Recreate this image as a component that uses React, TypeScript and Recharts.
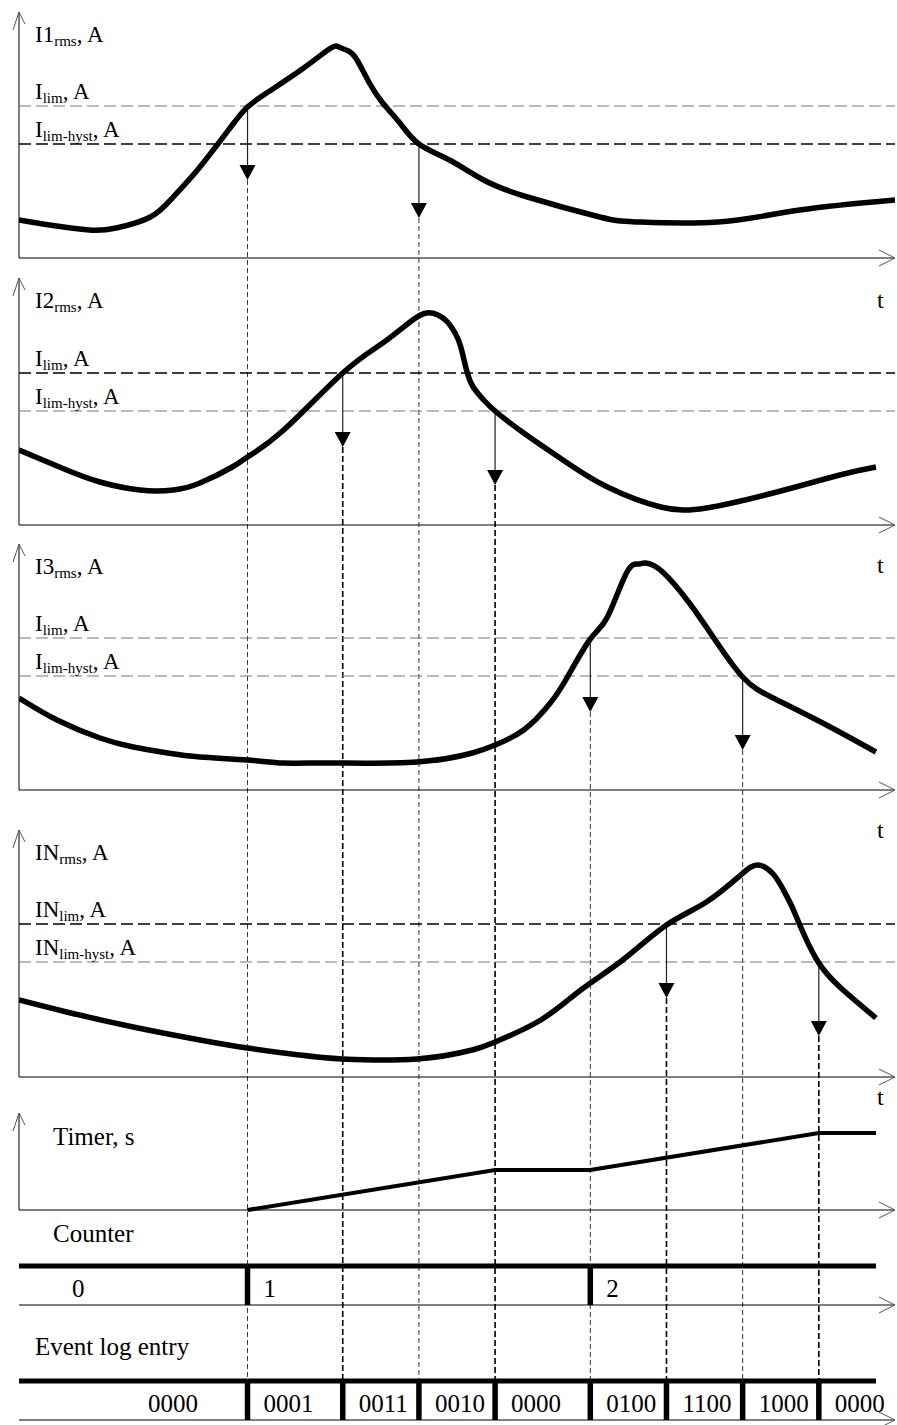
import React from 'react';
import { ComposedChart, Line, XAxis, YAxis, ReferenceLine } from 'recharts';

const FONT = '"Liberation Serif", "Times New Roman", serif';
const W = 897;
const H = 1425;

// time in grid units (~19 px each), curves stop at T_END, axes run to T_AXIS
const T_END = 45;
const T_AXIS = 46;

const I_LIM = 152;
const I_HYST = 114;
const IN_LIM = 153;
const IN_HYST = 115;

// [t, value]
const I1 = [
  [0, 38], [1.6, 33], [3.7, 28], [5.1, 30], [6.9, 41], [8.1, 61], [9.5, 91],
  [11.2, 133], [12, 151], [13, 165], [14.8, 188], [16.3, 209], [16.8, 211], [17.3, 207],
  [17.75, 198], [18.4, 175], [19.1, 155], [20, 135], [21, 114], [22.6, 98], [24.4, 78],
  [26.7, 61], [30.5, 41], [32.5, 36], [36.7, 36], [41, 48], [46, 58],
];
const I2 = [
  [0, 75], [2.5, 55], [4.25, 43], [6.35, 35], [8.1, 35], [9.5, 42], [11.2, 58], [12, 68],
  [13.9, 95], [17, 152], [19.1, 182], [20.6, 204], [21.4, 212], [22, 210], [22.5, 203],
  [22.9, 192], [23.2, 178], [23.5, 155], [23.85, 138], [24.4, 125], [25, 114], [26.5, 92],
  [28.8, 62], [30.9, 38], [33.7, 18], [36.1, 17], [39.6, 32], [43.1, 50], [45, 58],
];
const I3 = [
  [0, 92], [2, 70], [4.25, 52], [6, 43], [7.8, 37], [9.5, 33], [12, 30],
  [13.9, 27], [16.5, 27], [20.9, 28], [23.8, 37], [25, 45], [26.5, 60], [27.9, 87],
  [28.8, 113], [30, 151], [30.9, 173], [31.9, 217], [32.5, 226], [32.9, 227], [33.8, 218],
  [35.2, 187], [36.45, 153], [38, 113], [39.6, 92], [42.2, 67], [45, 38],
];
const IN = [
  [0, 77], [2.5, 65], [6, 50], [9.5, 37], [12, 29], [14.75, 22], [17, 18], [20.9, 18],
  [23.8, 27], [25, 35], [27.4, 57], [29.5, 87], [31.7, 117], [34, 152], [36.1, 175],
  [37.9, 202], [38.8, 212], [39.6, 203], [40.2, 185], [40.6, 170], [41, 152], [41.9, 117],
  [43.1, 90], [45, 59],
];
const TIMER = [[12, 0], [25, 40], [30, 40], [42, 77], [45, 77]];

// threshold crossings per panel: [rise above lim, fall below hyst]
const TRIPS = [[12, 21], [17, 25], [30, 38], [34, 42]];

const COUNTER_T = [0, 12, 30];
const COUNTER_VAL = ['0', '1', '2'];
const LOG_T = [0, 12, 17, 21, 25, 30, 34, 38, 42];
const LOG_VAL = ['0000', '0001', '0011', '0010', '0000', '0100', '1100', '1000', '0000'];

const PANELS = [
  { id: 'i1', base: 258, top: 246, name: 'I1', lname: 'I', lim: I_LIM, hyst: I_HYST, data: I1, limDark: false, hystDark: true, heavy: false, tDy: 50 },
  { id: 'i2', base: 525, top: 247, name: 'I2', lname: 'I', lim: I_LIM, hyst: I_HYST, data: I2, limDark: true, hystDark: false, heavy: true, tDy: 48 },
  { id: 'i3', base: 790, top: 246, name: 'I3', lname: 'I', lim: I_LIM, hyst: I_HYST, data: I3, limDark: false, hystDark: false, heavy: false, tDy: 48 },
  { id: 'in', base: 1077, top: 247, name: 'IN', lname: 'IN', lim: IN_LIM, hyst: IN_HYST, data: IN, limDark: true, hystDark: false, heavy: true, tDy: 28 },
];
const TIMER_BASE = 1210;
const TIMER_TOP = 97;
const CNT_BASE = 1305;
const LOG_BASE = 1420;
const BUS_V = 39;
const ARROW_LEN = 74;

const toRows = (arr: number[][]) => arr.map(([t, v]) => ({ t, v }));

function SubText({ x, y, main, sub, tail = ', A', size = 23 }: any) {
  return (
    <text x={x} y={y} fontFamily={FONT} fontSize={size} fill="#000">
      <tspan>{main}</tspan>
      <tspan fontSize={15} dy={4}>{sub}</tspan>
      <tspan dy={-4}>{tail}</tspan>
    </text>
  );
}

const axisXShape = (p: any) => (
  <g>
    <line x1={p.x1} y1={p.y1} x2={p.x2} y2={p.y2} stroke="#000" strokeWidth={1} />
    <polyline
      points={`${p.x2 - 16},${p.y2 - 8} ${p.x2},${p.y2} ${p.x2 - 16},${p.y2 + 8}`}
      fill="none"
      stroke="#555"
      strokeWidth={1}
    />
  </g>
);

const axisYShape = (p: any) => (
  <g>
    <line x1={p.x1} y1={p.y1} x2={p.x2} y2={p.y2} stroke="#000" strokeWidth={1} />
    <polyline
      points={`${p.x2 - 6},${p.y2 + 18} ${p.x2},${p.y2} ${p.x2 + 6},${p.y2 + 12}`}
      fill="none"
      stroke="#555"
      strokeWidth={1}
    />
  </g>
);

const tripShape = (p: any) => (
  <g>
    <line x1={p.x1} y1={p.y1} x2={p.x2} y2={p.y2 - 12} stroke="#222" strokeWidth={1.2} />
    <polygon points={`${p.x2 - 8},${p.y2 - 15} ${p.x2 + 8},${p.y2 - 15} ${p.x2},${p.y2}`} fill="#000" />
  </g>
);

const plainText = (x: number, y: number, s: string, size = 25) => (
  <text x={x} y={y} fontFamily={FONT} fontSize={size} fill="#000">{s}</text>
);

function bus(id: string, times: number[], values: string[], heading: string, headDx: number, headDy: number, firstDx: number) {
  const out: any[] = [];
  out.push(
    <ReferenceLine
      key={`${id}-axis`}
      yAxisId={id}
      segment={[{ x: 0, y: 0 }, { x: T_AXIS, y: 0 }]}
      shape={axisXShape}
      label={(lp: any) => plainText(lp.viewBox.x + headDx, lp.viewBox.y + headDy, heading)}
    />
  );
  times.forEach((t, i) => {
    const end = i < times.length - 1 ? times[i + 1] : T_END;
    out.push(
      <ReferenceLine
        key={`${id}-seg-${i}`}
        yAxisId={id}
        segment={[{ x: t, y: BUS_V }, { x: end, y: BUS_V }]}
        stroke="#000"
        strokeWidth={5}
        label={(lp: any) => plainText(lp.viewBox.x + (i === 0 ? firstDx : 16), lp.viewBox.y + 31, values[i])}
      />
    );
    if (i > 0) {
      out.push(
        <ReferenceLine
          key={`${id}-bar-${i}`}
          yAxisId={id}
          segment={[{ x: t, y: BUS_V }, { x: t, y: 0 }]}
          stroke="#000"
          strokeWidth={5.5}
        />
      );
    }
  });
  return out;
}

export default function App() {
  const yAxes = [
    ...PANELS.map((p) => ({ id: p.id, base: p.base })),
    { id: 'timer', base: TIMER_BASE },
    { id: 'cnt', base: CNT_BASE },
    { id: 'log', base: LOG_BASE },
  ];

  const panelParts = PANELS.map((p, idx) => {
    const parts: any[] = [];
    parts.push(
      <ReferenceLine
        key={`${p.id}-y`}
        yAxisId={p.id}
        segment={[{ x: 0, y: 0 }, { x: 0, y: p.top }]}
        shape={axisYShape}
        label={(lp: any) => <SubText x={lp.viewBox.x + 16} y={lp.viewBox.y + 30} main={p.name} sub="rms" />}
      />
    );
    parts.push(
      <ReferenceLine
        key={`${p.id}-x`}
        yAxisId={p.id}
        segment={[{ x: 0, y: 0 }, { x: T_AXIS, y: 0 }]}
        shape={axisXShape}
        label={(lp: any) => plainText(lp.viewBox.x + lp.viewBox.width - 18, lp.viewBox.y + p.tDy, 't', 24)}
      />
    );
    parts.push(
      <ReferenceLine
        key={`${p.id}-lim`}
        yAxisId={p.id}
        y={p.lim}
        stroke={p.limDark ? '#000' : '#777'}
        strokeWidth={p.limDark ? 1.6 : 1}
        strokeDasharray="12 5"
        label={(lp: any) => <SubText x={lp.viewBox.x + 16} y={lp.viewBox.y - 7} main={p.lname} sub="lim" />}
      />
    );
    parts.push(
      <ReferenceLine
        key={`${p.id}-hyst`}
        yAxisId={p.id}
        y={p.hyst}
        stroke={p.hystDark ? '#000' : '#777'}
        strokeWidth={p.hystDark ? 1.6 : 1}
        strokeDasharray="12 5"
        label={(lp: any) => <SubText x={lp.viewBox.x + 16} y={lp.viewBox.y - 7} main={p.lname} sub="lim-hyst" />}
      />
    );
    TRIPS[idx].forEach((t, k) => {
      const level = k === 0 ? p.lim : p.hyst;
      const tip = level - ARROW_LEN;
      parts.push(
        <ReferenceLine
          key={`${p.id}-trip-${k}`}
          yAxisId={p.id}
          segment={[{ x: t, y: level }, { x: t, y: tip }]}
          shape={tripShape}
        />
      );
      parts.push(
        <ReferenceLine
          key={`${p.id}-drop-${k}`}
          yAxisId={p.id}
          segment={[{ x: t, y: tip }, { x: t, y: p.base - LOG_BASE }]}
          stroke={p.heavy ? '#000' : '#333'}
          strokeWidth={p.heavy ? 1.6 : 1}
          strokeDasharray={p.heavy ? '6 3' : '5 3'}
        />
      );
    });
    parts.push(
      <Line
        key={`${p.id}-curve`}
        yAxisId={p.id}
        data={toRows(p.data)}
        dataKey="v"
        type="natural"
        stroke="#000"
        strokeWidth={5.5}
        strokeLinejoin="round"
        dot={false}
        activeDot={false}
        isAnimationActive={false}
      />
    );
    return parts;
  }).flat();

  return (
    <div style={{ position: 'absolute', left: 0, top: 0, width: W, height: H, background: '#fff' }}>
      <ComposedChart width={W} height={H} margin={{ top: 0, right: 2, bottom: 0, left: 19 }}>
        <XAxis type="number" dataKey="t" domain={[0, T_AXIS]} hide allowDataOverflow />
        {yAxes.map((a) => (
          <YAxis key={a.id} yAxisId={a.id} type="number" domain={[a.base - H, a.base]} hide allowDataOverflow />
        ))}
        {panelParts}
        <ReferenceLine
          yAxisId="timer"
          segment={[{ x: 0, y: 0 }, { x: 0, y: TIMER_TOP }]}
          shape={axisYShape}
          label={(lp: any) => plainText(lp.viewBox.x + 34, lp.viewBox.y + 32, 'Timer, s')}
        />
        <ReferenceLine yAxisId="timer" segment={[{ x: 0, y: 0 }, { x: T_AXIS, y: 0 }]} shape={axisXShape} />
        <Line
          yAxisId="timer"
          data={toRows(TIMER)}
          dataKey="v"
          type="linear"
          stroke="#000"
          strokeWidth={4}
          dot={false}
          activeDot={false}
          isAnimationActive={false}
        />
        {bus('cnt', COUNTER_T, COUNTER_VAL, 'Counter', 34, -63, 53)}
        {bus('log', LOG_T, LOG_VAL, 'Event log entry', 16, -65, 129)}
      </ComposedChart>
    </div>
  );
}
